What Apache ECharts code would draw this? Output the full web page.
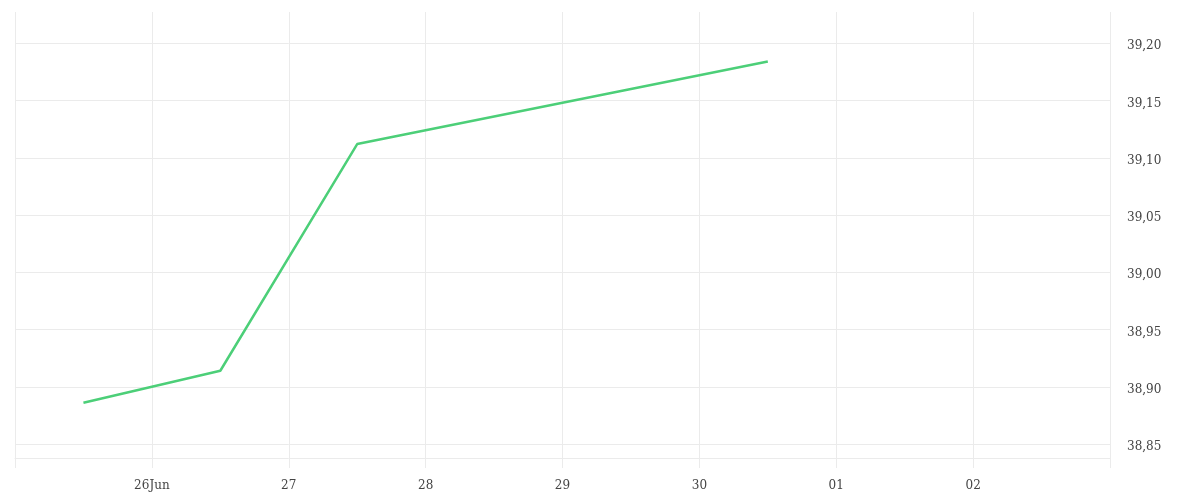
<!DOCTYPE html>
<html>
<head>
<meta charset="utf-8">
<script src="https://cdn.jsdelivr.net/npm/echarts@6/dist/echarts.min.js"></script>
<style>html,body{margin:0;padding:0;background:#fff}#c{width:1200px;height:500px}</style>
</head>
<body>
<div id="c"></div>
<script>
var dates = ['2024-06-25 12:00', '2024-06-26 12:00', '2024-06-27 12:00', '2024-06-30 12:00'];
var values = [38.886, 38.914, 39.112, 39.184];
var xMin = '2024-06-25 00:00';
var xMax = '2024-07-03 00:00';
var yMin = 38.8378;
var yMax = 39.2273;

var chart = echarts.init(document.getElementById('c'));
var DAY = 86400000;
var font = 'DejaVu Serif';
var tMin = new Date(2024, 5, 25).getTime();
var tMax = new Date(2024, 6, 3).getTime();
chart.setOption({
  animation: false,
  grid: { left: 15, right: 90, top: 12, bottom: 42, containLabel: false },
  xAxis: {
    type: 'time',
    min: xMin,
    max: xMax,
    minInterval: DAY,
    maxInterval: DAY,
    axisLine: { show: true, lineStyle: { color: '#ebebeb', width: 1 } },
    axisTick: { show: true, length: 10, lineStyle: { color: '#ebebeb' } },
    splitLine: { show: true, lineStyle: { color: '#ebebeb', width: 1 } },
    axisLabel: {
      showMinLabel: false,
      showMaxLabel: false,
      color: '#444',
      fontFamily: font,
      fontSize: 12,
      margin: 22,
      hideOverlap: false,
      formatter: function (v) {
        var d = new Date(v);
        if (Math.abs(v - tMin) < 3600000 || Math.abs(v - tMax) < 3600000) return '';
        var dd = ('0' + d.getDate()).slice(-2);
        if (d.getDate() === 26 && d.getMonth() === 5) return dd + 'Jun';
        return dd;
      }
    }
  },
  yAxis: {
    type: 'value',
    position: 'right',
    min: yMin,
    max: yMax,
    splitNumber: 8,
    axisLine: { show: false },
    axisTick: { show: false },
    splitLine: { show: true, showMinLine: false, showMaxLine: false, lineStyle: { color: '#ebebeb', width: 1 } },
    axisLabel: {
      showMinLabel: false,
      showMaxLabel: false,
      color: '#444',
      fontFamily: font,
      fontSize: 12,
      margin: 17,
      verticalAlign: 'top',
      lineHeight: 6,
      formatter: function (v) { return v.toFixed(2).replace('.', ','); }
    }
  },
  series: [{
    type: 'line',
    data: dates.map(function (d, i) { return [d, values[i]]; }),
    showSymbol: false,
    symbol: 'none',
    lineStyle: { color: '#4ccf78', width: 2.5 },
    itemStyle: { color: '#4ccf78' }
  }]
});
</script>
</body>
</html>
